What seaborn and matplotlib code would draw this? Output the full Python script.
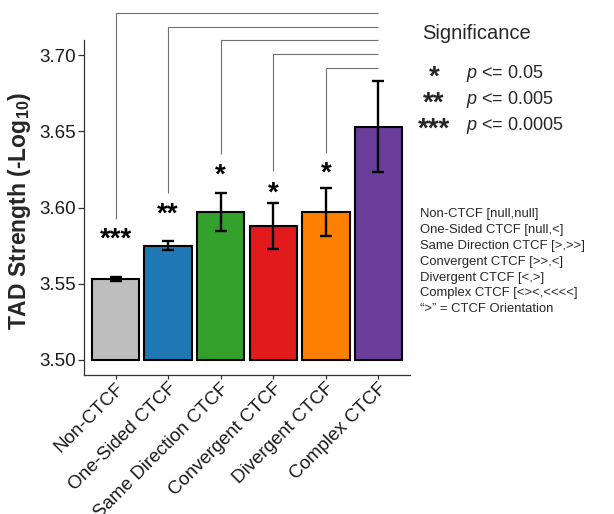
import matplotlib
matplotlib.use("Agg")
import matplotlib.pyplot as plt
import numpy as np
import pandas as pd
import seaborn as sns

# Mean TAD strength per CTCF boundary class, with standard errors
categories = ["Non-CTCF", "One-Sided CTCF", "Same Direction CTCF",
              "Convergent CTCF", "Divergent CTCF", "Complex CTCF"]
tad_strength = [3.553, 3.575, 3.597, 3.588, 3.597, 3.653]
std_error = [0.0015, 0.003, 0.0125, 0.015, 0.016, 0.030]
bar_colors = ["#BEBEBE", "#1F78B4", "#33A02C", "#E31A1C", "#FF7F00", "#6A3D9A"]

# Pairwise comparisons of each class against Complex CTCF
significance = ["***", "**", "*", "*", "*"]
star_y = [3.5745, 3.591, 3.6165, 3.6045, 3.6175]
bracket_top = [3.7279, 3.7185, 3.7098, 3.7011, 3.6913]
bracket_bottom = [3.5922, 3.6096, 3.6353, 3.6237, 3.6361]
reference_index = 5

y_ticks = [3.50, 3.55, 3.60, 3.65, 3.70]
bar_base = 3.50

legend_stars = ["*", "**", "***"]
legend_levels = ["0.05", "0.005", "0.0005"]
class_notes = ["Non-CTCF [null,null]", "One-Sided CTCF [null,<]",
               "Same Direction CTCF [>,>>]", "Convergent CTCF [>>,<]",
               "Divergent CTCF [<,>]", "Complex CTCF [<><,<<<<]",
               "\u201c>\u201d = CTCF Orientation"]

sns.set_theme(style="ticks")
plt.rcParams["font.family"] = ["Liberation Sans", "DejaVu Sans"]
plt.rcParams["mathtext.fontset"] = "custom"
plt.rcParams["mathtext.rm"] = "Liberation Sans"
plt.rcParams["mathtext.it"] = "Liberation Sans:italic"
plt.rcParams["mathtext.default"] = "regular"

W, H = 614, 514
fig = plt.figure(figsize=(W / 100, H / 100), dpi=100)
ax = fig.add_axes([84 / W, 1 - 375 / H, 326 / W, 335 / H])

df = pd.DataFrame({"category": categories, "strength": tad_strength})
sns.barplot(data=df, x="category", y="strength", hue="category",
            palette=bar_colors, legend=False, errorbar=None, width=0.9,
            saturation=1, edgecolor="black", linewidth=1.5, ax=ax)

# bars rise from the 3.50 baseline rather than from zero
for patch in ax.patches:
    top = patch.get_y() + patch.get_height()
    patch.set_y(bar_base)
    patch.set_height(top - bar_base)

ax.errorbar(np.arange(len(categories)), tad_strength, yerr=std_error,
            fmt="none", ecolor="black", elinewidth=1.7, capsize=4.3,
            capthick=1.7, zorder=5)

ax.set_xlim(-0.6, len(categories) - 0.4)
ax.set_ylim(3.49, 3.71)
ax.set_yticks(y_ticks)
ax.set_yticklabels([f"{t:.2f}" for t in y_ticks])
ax.set_xticks(np.arange(len(categories)))
ax.set_xticklabels(categories, rotation=45, ha="right", rotation_mode="anchor")
ax.set_xlabel("")
ax.set_ylabel("")
sns.despine(ax=ax)
for side in ("left", "bottom"):
    ax.spines[side].set_color("#333333")
    ax.spines[side].set_linewidth(0.9)
ax.tick_params(axis="both", width=0.9, color="#333333", labelcolor="#1a1a1a")
ax.tick_params(axis="y", labelsize=13.5, length=4, pad=2)
ax.tick_params(axis="x", labelsize=13.5, length=3, pad=0.5)

# significance stars and comparison brackets
for i, (s, y) in enumerate(zip(significance, star_y)):
    ax.text(i, y, s, ha="center", va="baseline", fontsize=20,
            fontweight="bold", color="black")
for i, (top, bottom) in enumerate(zip(bracket_top, bracket_bottom)):
    ax.plot([i, i, reference_index], [bottom, top, top], color="#707070",
            lw=0.8, clip_on=False, solid_capstyle="butt")

fig.text(20 / W, 1 - 211 / H, "TAD Strength (-Log$_{10}$)", rotation=90,
         ha="center", va="center", fontsize=16.5, fontweight="bold")

# significance key
fig.text(422 / W, 1 - 39 / H, "Significance", fontsize=14.5, va="baseline")
for k, (s, lvl) in enumerate(zip(legend_stars, legend_levels)):
    fig.text(434 / W, 1 - (85 + 26 * k) / H, s, ha="center", va="baseline",
             fontsize=20, fontweight="bold")
    fig.text(466 / W, 1 - (78 + 26 * k) / H, "$\\mathit{p}$ <= " + lvl,
             va="baseline", fontsize=13)

# boundary class notes
for k, line in enumerate(class_notes):
    fig.text(420 / W, 1 - (217.5 + 15.75 * k) / H, line, va="baseline",
             fontsize=9.4)

fig.savefig("out.png", dpi=100)
